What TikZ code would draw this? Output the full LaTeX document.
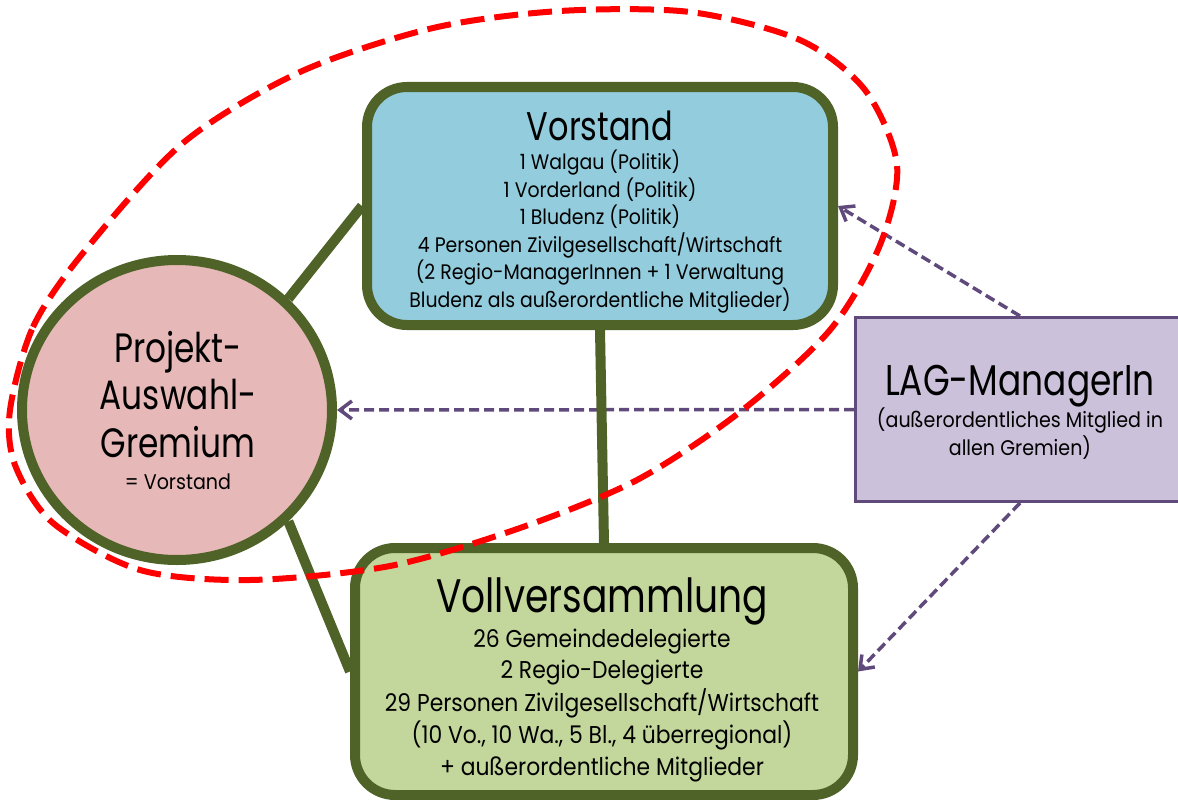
\documentclass[tikz,border=0pt]{standalone}
\usepackage{fontspec}
\setmainfont{Poppins}[FakeStretch=0.8]
\newfontfamily\subfam{Poppins}[FakeStretch=0.9]
\usetikzlibrary{arrows.meta,shapes.geometric}
\definecolor{grn}{HTML}{4F6228}
\definecolor{vblue}{HTML}{93CDDD}
\definecolor{vpink}{HTML}{E6B9B8}
\definecolor{vlgreen}{HTML}{C3D69B}
\definecolor{vlav}{HTML}{CCC1DA}
\definecolor{vpurp}{HTML}{604A7B}
\pgfdeclarelayer{bg}
\pgfsetlayers{bg,main}
\tikzset{
  gbox/.style={rectangle, draw=grn, line width=10pt, rounded corners=40pt, inner sep=0pt},
  gline/.style={draw=grn, line width=10pt},
  parrow/.style={draw=vpurp, line width=3.5pt, dash pattern=on 10pt off 5pt, -{Straight Barb[length=12pt,width=18pt,line width=3.5pt]}},
  ttl/.style={anchor=base, inner sep=0pt, font=\fontsize{40}{48}\selectfont},
  cttl/.style={anchor=base, inner sep=0pt, font=\fontsize{41}{48}\selectfont},
  lttl/.style={anchor=base, inner sep=0pt, font=\fontsize{43}{50}\selectfont},
  bigttl/.style={anchor=base, inner sep=0pt, font=\fontsize{47}{56}\selectfont},
  sub/.style={anchor=base, inner sep=0pt, font=\subfam\fontsize{21}{25}\selectfont},
  vsub/.style={anchor=base, inner sep=0pt, font=\subfam\fontsize{24.3}{28}\selectfont},
  lsub/.style={anchor=base, inner sep=0pt, font=\subfam\fontsize{21.2}{25}\selectfont},
  redring/.style={draw=red, line width=6pt, dash pattern=on 24pt off 10pt}
}
\begin{document}
\begin{tikzpicture}[x=1pt,y=-1pt]
\useasboundingbox (0,0) rectangle (1178,800);
% boxes
\node[gbox, fill=vblue, minimum width=466pt, minimum height=238pt] (vor) at (600,206) {};
\node[gbox, fill=vlgreen, minimum width=498pt, minimum height=247pt] (voll) at (604,671.5) {};
\node[ellipse, draw=grn, line width=10pt, fill=vpink, minimum width=310pt, minimum height=300pt, inner sep=0pt] (pag) at (177,410) {};
\node[rectangle, draw=vpurp, line width=3pt, fill=vlav, minimum width=329pt, minimum height=184pt, inner sep=0pt] (lag) at (1020,409.5) {};
% Vorstand text
\node[ttl] (vt) at (600,140) {Vorstand};
\node[sub] (v1) at (600,169) {1 Walgau (Politik)};
\node[sub] (v2) at (600,197) {1 Vorderland (Politik)};
\node[sub] (v3) at (600,224) {1 Bludenz (Politik)};
\node[sub] (v4) at (600,252) {4 Personen Zivilgesellschaft/Wirtschaft};
\node[sub] (v5) at (600,279) {(2 Regio-ManagerInnen + 1 Verwaltung};
\node[sub] (v6) at (600,307) {Bludenz als außerordentliche Mitglieder)};
% circle text
\node[cttl] (p1) at (178,362) {Projekt-};
\node[cttl] (p2) at (178,409) {Auswahl-};
\node[cttl] (p3) at (178,457) {Gremium};
\node[lsub] (p4) at (178,489) {= Vorstand};
% Vollversammlung text
\node[bigttl] (wt) at (602,612) {Vollversammlung};
\node[vsub] (w1) at (602,647) {26 Gemeindedelegierte};
\node[vsub] (w2) at (602,678) {2 Regio-Delegierte};
\node[vsub] (w3) at (602,711) {29 Personen Zivilgesellschaft/Wirtschaft};
\node[vsub] (w4) at (602,743) {(10 Vo., 10 Wa., 5 Bl., 4 überregional)};
\node[vsub] (w5) at (602,775) {+ außerordentliche Mitglieder};
% LAG text
\node[lttl] (lt) at (1020,395) {LAG-ManagerIn};
\node[lsub] (l1) at (1020,427) {(außerordentliches Mitglied in};
\node[lsub] (l2) at (1020,455) {allen Gremien)};
% connectors
\begin{pgfonlayer}{bg}
\draw[parrow] (lag.north) -- (vor.east);
\draw[parrow] (lag.west) -- (pag.east);
\draw[parrow] (lag.south) -- (voll.east);
\draw[gline] (pag.45) -- (vor.west);
\draw[gline] (pag.-45) -- (voll.west);
\draw[gline] (vor.south) -- (voll.north);
\end{pgfonlayer}
% red dashed ring
\draw[redring] plot[smooth cycle, tension=0.5] coordinates {
 (10,410) (33,327) (83,253) (183,143) (300,72) (433,28) (560,11) (690,12)
 (800,40) (865,90) (897,165) (880,245) (830,330) (740,412) (637,480)
 (520,528) (390,566) (250,580) (140,570) (53,523) (15,465)};
\end{tikzpicture}
\end{document}
